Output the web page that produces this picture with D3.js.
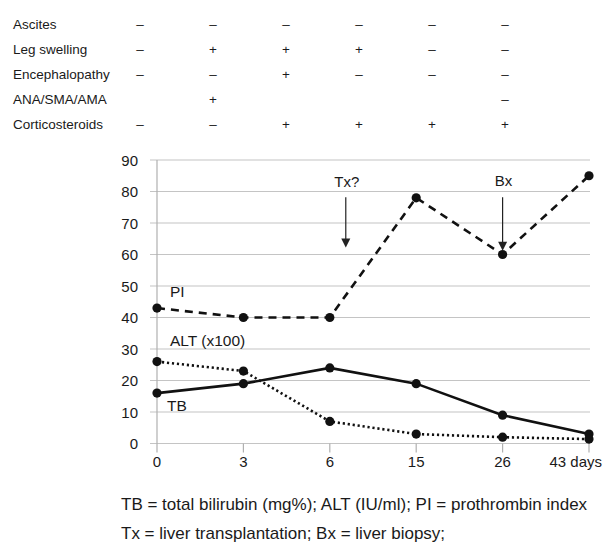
<!DOCTYPE html>
<html>
<head>
<meta charset="utf-8">
<script src="https://cdn.jsdelivr.net/npm/d3@7"></script>
<style>
  body { margin: 0; background: #fff; }
  svg text { font-family: "Liberation Sans", Arial, sans-serif; fill: #1a1a1a; }
</style>
</head>
<body>
<div id="wrapper"></div>
<script>
// table on top
const rowLabels = ['Ascites', 'Leg swelling', 'Encephalopathy', 'ANA/SMA/AMA', 'Corticosteroids']
const rowSigns = [
  ['–', '–', '–', '–', '–', '–'],
  ['–', '+', '+', '+', '–', '–'],
  ['–', '–', '+', '–', '–', '–'],
  ['', '+', '', '', '', '–'],
  ['–', '–', '+', '+', '+', '+']
]

// chart data
const days = ['0', '3', '6', '15', '26', '43']
const piValues = [43, 40, 40, 78, 60, 85]
const tbValues = [16, 19, 24, 19, 9, 3]
const altValues = [26, 23, 7, 3, 2, 1.4]
const yTicks = [0, 10, 20, 30, 40, 50, 60, 70, 80, 90]

const notes = [
  'TB = total bilirubin (mg%); ALT (IU/ml); PI = prothrombin index',
  'Tx = liver transplantation; Bx = liver biopsy;'
]

function draw() {
  const dimensions = {
    width: 608,
    height: 548
  }

  const wrapper = d3.select('#wrapper')
    .append('svg')
      .attr('width', dimensions.width)
      .attr('height', dimensions.height)

  //table
  const colScale = d3.scalePoint()
    .domain(d3.range(6))
    .range([139, 505])
    .round(true)
  const rowScale = d3.scalePoint()
    .domain(d3.range(rowLabels.length))
    .range([27, 130])
    .round(true)

  const table = wrapper.append('g')
  rowLabels.forEach((label, i) => {
    table.append('text')
      .attr('x', 13)
      .attr('y', rowScale(i))
      .style('font-size', '13.5px')
      .text(label)
    rowSigns[i].forEach((s, j) => {
      if (!s) return
      table.append('text')
        .attr('x', colScale(j))
        .attr('y', rowScale(i))
        .attr('text-anchor', 'middle')
        .style('font-size', '13.5px')
        .text(s)
    })
  })

  //scales
  const xScale = d3.scalePoint()
    .domain(days)
    .range([157, 589])

  const yScale = d3.scaleLinear()
    .domain([0, 90])
    .range([443.5, 160])

  //grid + y axis
  const grid = wrapper.append('g')
  grid.selectAll('line')
    .data(yTicks)
    .join('line')
      .attr('x1', 150)
      .attr('x2', 590)
      .attr('y1', d => yScale(d))
      .attr('y2', d => yScale(d))
      .attr('stroke', '#c4c4c4')
      .attr('stroke-width', 1.2)

  wrapper.append('line')
    .attr('x1', xScale('0'))
    .attr('x2', xScale('0'))
    .attr('y1', yScale(90))
    .attr('y2', yScale(0))
    .attr('stroke', '#b0b0b0')
    .attr('stroke-width', 1.2)

  wrapper.append('g').selectAll('text')
    .data(yTicks)
    .join('text')
      .attr('x', 138)
      .attr('y', d => yScale(d) + 5.5)
      .attr('text-anchor', 'end')
      .style('font-size', '15px')
      .text(d => d)

  //x axis
  const xAxis = wrapper.append('g')
  xAxis.selectAll('line')
    .data(days)
    .join('line')
      .attr('x1', d => xScale(d))
      .attr('x2', d => xScale(d))
      .attr('y1', yScale(0))
      .attr('y2', yScale(0) + 9)
      .attr('stroke', '#b0b0b0')
      .attr('stroke-width', 1.2)
  xAxis.selectAll('text')
    .data(days)
    .join('text')
      .attr('x', d => d === '43' ? xScale(d) + 13 : xScale(d))
      .attr('y', yScale(0) + 23)
      .attr('text-anchor', d => d === '43' ? 'end' : 'middle')
      .style('font-size', '15px')
      .text(d => d === '43' ? '43 days' : d)

  //lines
  const series = [
    {values: piValues, dash: '8,6'},
    {values: tbValues, dash: null},
    {values: altValues, dash: '2.2,2.8'}
  ]
  const lineGenerator = d3.line()
    .x((d, i) => xScale(days[i]))
    .y(d => yScale(d))

  series.forEach(s => {
    wrapper.append('path')
      .attr('d', lineGenerator(s.values))
      .attr('fill', 'none')
      .attr('stroke', '#111')
      .attr('stroke-width', 2.6)
      .attr('stroke-dasharray', s.dash)
    wrapper.append('g').selectAll('circle')
      .data(s.values)
      .join('circle')
        .attr('cx', (d, i) => xScale(days[i]))
        .attr('cy', d => yScale(d))
        .attr('r', 4.6)
        .attr('fill', '#111')
  })

  //series labels
  const labels = [
    {text: 'PI', x: 170, v: 46.5},
    {text: 'ALT (x100)', x: 170, v: 30.8},
    {text: 'TB', x: 167, v: 10.2}
  ]
  wrapper.append('g').selectAll('text')
    .data(labels)
    .join('text')
      .attr('x', d => d.x)
      .attr('y', d => yScale(d.v))
      .style('font-size', '15.5px')
      .text(d => d.text)

  //annotations
  const step = xScale.step()
  const annotations = [
    {text: 'Tx?', x: xScale('6') + step * 0.185, top: 78.2, tip: 62.2, labelV: 81.5},
    {text: 'Bx', x: xScale('26'), top: 78.2, tip: 61.2, labelV: 81.7}
  ]
  annotations.forEach(a => {
    wrapper.append('text')
      .attr('x', a.x + 1)
      .attr('y', yScale(a.labelV))
      .attr('text-anchor', 'middle')
      .style('font-size', '15px')
      .text(a.text)
    wrapper.append('line')
      .attr('x1', a.x)
      .attr('x2', a.x)
      .attr('y1', yScale(a.top))
      .attr('y2', yScale(a.tip) - 8)
      .attr('stroke', '#222')
      .attr('stroke-width', 1.2)
    const ty = yScale(a.tip)
    wrapper.append('path')
      .attr('d', `M${a.x - 4.5},${ty - 9}L${a.x + 4.5},${ty - 9}L${a.x},${ty}Z`)
      .attr('fill', '#222')
  })

  //footnotes
  wrapper.append('g').selectAll('text')
    .data(notes)
    .join('text')
      .attr('x', 121)
      .attr('y', (d, i) => 510 + i * 29)
      .style('font-size', '17px')
      .text(d => d)
}

draw()
</script>
</body>
</html>
